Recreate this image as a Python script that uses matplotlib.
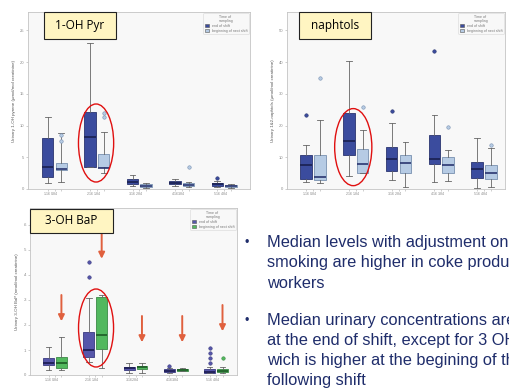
import matplotlib.pyplot as plt
from matplotlib.patches import Ellipse, Patch, Rectangle

# ---- data (in y-tick units) ----
groups = ["Graphite electrode\nproduction", "Coke production\nworkers", "Aluminium\nproduction",
          "Chimney sweeps\nand roofers", "Bitumen and asphalt\nworkers"]

# 1-OH Pyr : [whislo, q1, med, q3, whishi]
pyr_end = [[0.18, 0.39, 0.70, 1.60, 2.28], [0.70, 0.70, 1.65, 2.44, 4.60],
           [0.10, 0.15, 0.22, 0.30, 0.45], [0.10, 0.15, 0.20, 0.25, 0.30],
           [0.05, 0.10, 0.15, 0.20, 0.25]]
pyr_end_out = [[], [], [], [], [0.35]]
pyr_next = [[0.23, 0.60, 0.62, 0.81, 1.76], [0.50, 0.70, 0.65, 1.10, 1.80],
            [0.03, 0.06, 0.10, 0.15, 0.20], [0.05, 0.08, 0.12, 0.18, 0.22],
            [0.03, 0.05, 0.08, 0.12, 0.15]]
pyr_next_out = [[1.50, 1.70], [2.28, 2.39], [], [0.70], []]

# naphtols
nap_end = [[0.23, 0.30, 0.76, 1.07, 1.39], [0.41, 1.07, 1.50, 2.39, 4.02],
           [0.28, 0.58, 0.94, 1.32, 2.07], [0.23, 0.78, 0.94, 1.70, 2.34],
           [0.02, 0.34, 0.62, 0.86, 1.60]]
nap_end_out = [[2.34], [], [2.47], [4.34], []]
nap_next = [[0.20, 0.28, 0.39, 1.07, 2.18], [0.50, 0.52, 0.79, 1.25, 1.86],
            [0.07, 0.49, 0.81, 1.07, 1.49], [0.26, 0.52, 0.76, 1.00, 1.23],
            [0.07, 0.31, 0.52, 0.76, 1.30]]
nap_next_out = [[3.50], [2.60], [], [1.97], [1.39]]

# 3-OH BaP
bap_end = [[0.20, 0.40, 0.47, 0.67, 1.13], [0.53, 0.73, 1.00, 1.73, 3.07],
           [0.07, 0.20, 0.27, 0.33, 0.47], [0.07, 0.11, 0.16, 0.24, 0.30],
           [0.07, 0.07, 0.13, 0.24, 0.33]]
bap_end_out = [[], [3.93, 4.53], [], [0.37], [0.47, 0.67, 0.87, 1.07]]
bap_next = [[0.20, 0.27, 0.47, 0.71, 1.53], [0.27, 1.04, 1.60, 3.13, 3.20],
            [0.10, 0.24, 0.31, 0.37, 0.47], [0.15, 0.16, 0.20, 0.24, 0.28],
            [0.07, 0.11, 0.16, 0.24, 0.31]]
bap_next_out = [[], [], [], [], [0.67]]

pyr_ticks = ["0", "5", "10", "15", "20", "25"]
nap_ticks = ["0", "10", "20", "30", "40", "50"]
bap_ticks = ["0", ".1", ".2", ".3", ".4", ".5", ".6"]

bullet1 = ["Median levels with adjustment on", "smoking are higher in coke production", "workers"]
bullet2 = ["Median urinary concentrations are higher", "at the end of shift, except for 3 OH-BaP",
           "wich is higher at the begining of the", "following shift"]

DARK = "#3b4c9e"
DARK_P3 = "#5656aa"
LIGHT = "#b6cbe4"
GREEN = "#52b85e"
ARROW = "#e0603e"
NAVY = "#1f2d6b"
TICK = "#8a8a8a"

plt.rcParams["font.family"] = ["Liberation Sans", "DejaVu Sans"]


def stats(rows, outs):
    return [dict(whislo=r[0], q1=r[1], med=r[2], q3=r[3], whishi=r[4], fliers=o)
            for r, o in zip(rows, outs)]


def draw_boxes(ax, rows, outs, pos, face, edge, med_color):
    ax.bxp(stats(rows, outs), positions=pos, widths=0.27, patch_artist=True,
           boxprops=dict(facecolor=face, edgecolor=edge, linewidth=0.6),
           medianprops=dict(color=med_color, linewidth=1.2),
           whiskerprops=dict(color="#666666", linewidth=0.6),
           capprops=dict(color="#666666", linewidth=0.6),
           flierprops=dict(marker="o", markersize=2.5, markerfacecolor=face,
                           markeredgecolor=edge, markeredgewidth=0.4))


def setup(ax, ticks, xlim, ylim, ylabel, legend_colors):
    ax.set_facecolor("#f8f8f8")
    for s in ax.spines.values():
        s.set_color("#c4c4c4")
        s.set_linewidth(0.6)
    ax.set_xlim(*xlim)
    ax.set_ylim(*ylim)
    ax.set_yticks(range(len(ticks)))
    ax.set_yticklabels(ticks, fontsize=3, color=TICK)
    ax.set_xticks(range(1, len(groups) + 1))
    ax.set_xticklabels(groups, fontsize=2.6, color=TICK, linespacing=0.9)
    ax.tick_params(length=1.5, width=0.4, color="#aaaaaa", pad=1)
    ax.set_ylabel(ylabel, fontsize=3.2, color="#555555", labelpad=3)
    hs = [Patch(facecolor=legend_colors[0], edgecolor="#555555", linewidth=0.4),
          Patch(facecolor=legend_colors[1], edgecolor="#555555", linewidth=0.4)]
    leg = ax.legend(hs, ["end of shift", "beginning of next shift"], title="Time of\nsampling",
                    fontsize=2.6, title_fontsize=2.6, loc="upper right", frameon=True,
                    handlelength=1.2, handleheight=0.8, borderaxespad=0.3, labelspacing=0.2)
    leg.get_frame().set_edgecolor("#cfcfcf")
    leg.get_frame().set_linewidth(0.4)
    leg.get_frame().set_facecolor("#f8f8f8")
    for t in leg.get_texts():
        t.set_color("#777777")
    leg.get_title().set_color("#777777")


def tag(fig, x0, y0, w, h, text):
    # x0, y0 = top-left corner in pixels
    fig.add_artist(Rectangle((x0 / W, 1 - (y0 + h) / H), w / W, h / H,
                             transform=fig.transFigure, facecolor="#fff5c2",
                             edgecolor="#222222", linewidth=0.8, zorder=20))
    fig.text((x0 + w / 2) / W, 1 - (y0 + h / 2) / H, text, fontsize=8.5,
             family=["Open Sans", "DejaVu Sans"], ha="center", va="center",
             color="black", zorder=21)


def ring(ax, x, y, w, h):
    ax.add_patch(Ellipse((x, y), w, h, fill=False, edgecolor="#e01010", linewidth=1.0, zorder=10))


W, H = 510, 389
fig = plt.figure(figsize=(W / 100, H / 100), dpi=100)

pos = list(range(1, len(groups) + 1))
left = [p - 0.16 for p in pos]
right = [p + 0.16 for p in pos]

# ---- panel 1 : 1-OH Pyr ----
ax1 = fig.add_axes([28 / W, 1 - 189 / H, 222 / W, 177 / H])
setup(ax1, pyr_ticks, (0.375, 5.61), (0, 5.58),
      "Urinary 1-OH pyrene (µmol/mol creatinine)", [DARK, LIGHT])
draw_boxes(ax1, pyr_end, pyr_end_out, left, DARK, "#2a3570", "#1a2050")
draw_boxes(ax1, pyr_next, pyr_next_out, right, LIGHT, "#7890b0", "#2a3570")
ring(ax1, 1.98, 1.45, 0.83, 2.46)

# ---- panel 2 : naphtols ----
ax2 = fig.add_axes([287 / W, 1 - 189 / H, 218 / W, 177 / H])
setup(ax2, nap_ticks, (0.39, 5.49), (0, 5.58),
      "Urinary 1&2-naphtols (µmol/mol creatinine)", [DARK, LIGHT])
draw_boxes(ax2, nap_end, nap_end_out, left, DARK, "#2a3570", "#1a2050")
draw_boxes(ax2, nap_next, nap_next_out, right, LIGHT, "#7890b0", "#2a3570")
ring(ax2, 1.94, 1.32, 0.87, 2.43)

# ---- panel 3 : 3-OH BaP ----
ax3 = fig.add_axes([30 / W, 1 - 375 / H, 207 / W, 167 / H])
setup(ax3, bap_ticks, (0.38, 5.52), (0, 6.68),
      "Urinary 3-OH BaP (nmol/mol creatinine)", [DARK_P3, GREEN])
draw_boxes(ax3, bap_end, bap_end_out, left, DARK_P3, "#3a3a80", "#1a1a50")
draw_boxes(ax3, bap_next, bap_next_out, right, GREEN, "#3a8a45", "#1d5a25")
ring(ax3, 2.02, 1.88, 0.87, 3.12)

arrow_top = [3.2, 5.7, 2.36, 2.36, 2.8]
arrow_len = 1.05
for x, yt in zip(right, arrow_top):
    ax3.annotate("", xy=(x, yt - arrow_len), xytext=(x, yt),
                 arrowprops=dict(arrowstyle="-|>", color=ARROW, lw=1.4,
                                 mutation_scale=9, shrinkA=0, shrinkB=0), zorder=12)

tag(fig, 44, 12, 72, 27, "1-OH Pyr")
tag(fig, 299, 12, 72, 27, "naphtols")
tag(fig, 30, 209, 83, 24, "3-OH BaP")

# ---- bullet text (clipped at the right edge, as on the slide) ----
for lines, y0 in [(bullet1, 243), (bullet2, 321)]:
    fig.text(247 / W, 1 - y0 / H, "•", fontsize=9, color=NAVY, ha="center", va="center")
    for i, line in enumerate(lines):
        fig.text(267 / W, 1 - (y0 + 20 * i) / H, line, fontsize=11.8, color=NAVY,
                 ha="left", va="center")

fig.savefig("out.png", dpi=100, facecolor="white")
